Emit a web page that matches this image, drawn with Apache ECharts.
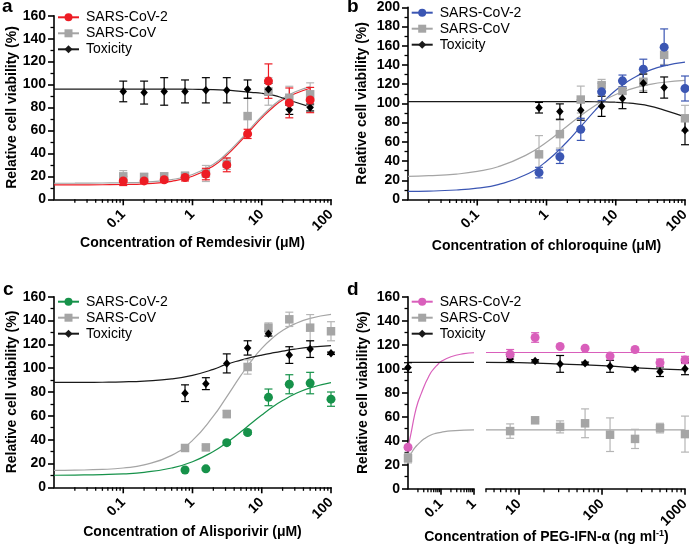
<!DOCTYPE html>
<html><head><meta charset="utf-8">
<script src="https://cdn.jsdelivr.net/npm/echarts/dist/echarts.min.js"></script>
<style>html,body{margin:0;padding:0;background:#fff;width:689px;height:547px;overflow:hidden}.p{position:absolute}</style>
</head><body>
<div id="pa" class="p" style="left:0;top:0;width:345px;height:273px"></div>
<div id="pb" class="p" style="left:345px;top:0;width:344px;height:273px"></div>
<div id="pc" class="p" style="left:0;top:273px;width:345px;height:274px"></div>
<div id="pd" class="p" style="left:345px;top:273px;width:344px;height:274px"></div>
<script>
// ---------------- DATA ----------------
// Panel a: Remdesivir
const A_X = [0.1, 0.2, 0.39, 0.78, 1.56, 3.125, 6.25, 12.5, 25, 50];
const A_COV2 = [16, 16, 17, 19, 22, 30, 57, 103, 84, 86.5];
const A_COV2_ERR = [4, 2, 2, 3, 5, 6, 4, 15, 13, 11];
const A_COV = [20, 19.5, 20, 20.5, 22.5, 31, 72.5, 94, 88.5, 91.5];
const A_COV_ERR = [5, 3, 3, 3, 7, 5, 16, 12, 10, 10];
const A_TOX = [94, 93, 94, 94, 95, 95, 96, 96, 78, 80];
const A_TOX_ERR = [9, 10, 12, 10, 11, 11, 8, 5, 4, 3];
const A_FIT_X = [0.01, 0.02, 0.05, 0.1, 0.2, 0.5, 1, 2, 3, 5, 7, 10, 15, 20, 30, 50];
const A_COV2_FIT = [12.5, 12.55, 12.7, 12.9, 13.5, 15.7, 20.1, 29.1, 37.5, 51, 60.8, 70.9, 80.9, 86.5, 92, 96.8];
const A_COV_FIT = [14, 14.05, 14.2, 14.4, 15, 17.2, 21.6, 30.6, 39, 52.5, 62.3, 72.4, 82.4, 88, 93.5, 98.2];
const A_TOX_FIT = [96, 96, 96, 96, 96, 96, 95.9, 95.6, 95.1, 94, 93.2, 92.4, 90.5, 88.3, 84.8, 80.5];

// Panel b: chloroquine
const B_X = [0.78, 1.56, 3.125, 6.25, 12.5, 25, 50, 100];
const B_COV2 = [28, 44.5, 73, 112, 123.5, 135.5, 158.5, 115.5];
const B_COV2_ERR = [5.5, 7, 11.5, 9, 6, 10.5, 19, 13];
const B_COV = [47, 68, 104, 119, 113, 122.5, 150.5, 84.5];
const B_COV_ERR = [19.5, 14.5, 14, 6, 3, 9, 10, 13.5];
const B_TOX = [95.5, 91.5, 93, 97, 105, 121, 116.5, 72];
const B_TOX_ERR = [5.5, 8, 10.5, 10.5, 10.5, 9.5, 11, 15];
const B_FIT_X = [0.01, 0.02, 0.05, 0.1, 0.2, 0.5, 1, 2, 3, 5, 7, 10, 15, 20, 30, 50, 100];
const B_COV2_FIT = [8.4, 8.7, 9.9, 11.8, 15.5, 25.7, 39.8, 60.4, 74.5, 92.5, 103.5, 113.6, 123, 128.3, 134.1, 139.1, 143];
const B_COV_FIT = [24.1, 24.8, 26.5, 29.2, 34.1, 45.9, 59.6, 76.5, 86.4, 97.6, 103.8, 109.2, 114, 116.7, 119.5, 122, 123.9];
const B_TOX_FIT = [101.8, 101.8, 101.8, 101.8, 101.8, 101.8, 101.8, 101.8, 101.8, 101.7, 101.6, 101.2, 100.4, 99.5, 97.5, 93, 86];

// Panel c: Alisporivir
const C_X = [0.78, 1.56, 3.125, 6.25, 12.5, 25, 50, 100];
const C_COV2 = [14.5, 15.5, 37.5, 46, 75.5, 86.5, 87.5, 74];
const C_COV2_ERR = [1, 1, 1.5, 1.5, 7, 8, 9, 6];
const C_COV = [33, 33.5, 61.5, 101, 134, 141, 134, 131];
const C_COV_ERR = [2, 1.5, 3, 6, 4, 6, 11, 8];
const C_TOX = [79, 87, 104, 117, 129, 111, 116, 112.5];
const C_TOX_ERR = [7, 5, 8, 6, 2, 7, 7, 1];
const C_FIT_X = [0.01, 0.02, 0.05, 0.1, 0.2, 0.5, 1, 2, 3, 5, 7, 10, 15, 20, 30, 50, 100];
const C_COV2_FIT = [10.1, 10.3, 10.7, 11.3, 12.6, 16.2, 21.5, 30.1, 36.8, 46.6, 53.5, 60.7, 68.2, 72.8, 78.3, 83.5, 87.9];
const C_COV_FIT = [14.2, 14.4, 15, 16.2, 18.8, 26.8, 39.4, 59.7, 74.5, 93.9, 105.7, 116.6, 126.3, 131.7, 137.2, 141.8, 145.1];
const C_TOX_FIT = [88, 88, 88.2, 88.5, 89.2, 91, 94, 99, 103, 106.8, 109, 111, 113, 114.3, 116, 117.6, 119];

// Panel d: PEG-IFN-alpha (broken axis)
const D_X0 = [0.01];
const D_COV2_0 = [34.5];
const D_COV2_0_ERR = [1.5];
const D_COV_0 = [25.5];
const D_COV_0_ERR = [4];
const D_TOX_0 = [101];
const D_TOX_0_ERR = [4];
const D_X = [7.8125, 15.625, 31.25, 62.5, 125, 250, 500, 1000];
const D_COV2 = [112, 126, 118.5, 117, 110.5, 116, 105, 107.3];
const D_COV2_ERR = [4, 4, 1, 1, 1, 1, 3, 3];
const D_COV = [48, 57, 51.5, 54.5, 45, 41.5, 50.5, 45.5];
const D_COV_ERR = [6, 1, 5, 12, 14, 8, 4, 15];
const D_TOX = [108, 106.5, 104, 104.5, 102, 100, 97.5, 100];
const D_TOX_ERR = [2, 1, 7, 1, 5, 1, 4, 5];
const D_FIT_X_L = [0.01, 0.0125, 0.016, 0.02, 0.025, 0.032, 0.04, 0.05, 0.063, 0.08, 0.1, 0.2, 0.5, 1];
const D_COV2_FIT_L = [34, 47, 62, 72, 79, 86.5, 92, 97, 100.5, 103.5, 106, 110, 112.5, 113.3];
const D_COV_FIT_L = [25, 29.5, 34, 37, 39.5, 41.8, 43.5, 44.8, 45.8, 46.5, 47, 48.2, 48.8, 49];
const D_TOX_FIT_L = [105.3, 105.3, 105.3, 105.3, 105.3, 105.3, 105.3, 105.3, 105.3, 105.3, 105.3, 105.3, 105.3, 105.3];
const D_FIT_X_R = [4, 10, 30, 100, 300, 1000];
const D_COV2_FIT_R = [113.5, 113.5, 113.5, 113.5, 113.5, 113.5];
const D_COV_FIT_R = [49, 49, 49, 49, 49, 49];
const D_TOX_FIT_R = [105.3, 105, 104, 102.5, 100.5, 99];

// tick values / labels
const Y_MAX_160 = 160;
const Y_MAX_200 = 200;
const X_LABELS_4DEC = [0.1, 1, 10, 100];
const X_MINOR_4DEC = [0.02,0.03,0.04,0.05,0.06,0.07,0.08,0.09,0.2,0.3,0.4,0.5,0.6,0.7,0.8,0.9,2,3,4,5,6,7,8,9,20,30,40,50,60,70,80,90];
const D_LABELS_L = [0.1, 1];
const D_MINOR_L = [0.02,0.03,0.04,0.05,0.06,0.07,0.08,0.09,0.2,0.3,0.4,0.5,0.6,0.7,0.8,0.9];
const D_LABELS_R = [10, 100, 1000];
const D_MINOR_R = [4,5,6,7,8,9,20,30,40,50,60,70,80,90,200,300,400,500,600,700,800,900];

const NAMES = ['SARS-CoV-2', 'SARS-CoV', 'Toxicity'];

// ---------------- STYLE ----------------
const FONT = '"Liberation Sans", Arial, Helvetica, sans-serif';
const GRAY = '#a5a5a5', GRAY_ERR = '#b5b5b5', BLACK = '#000000';
const RED = '#ed1c24', BLUE = '#3b56b3', GREEN = '#16924a', PINK = '#d95fbb';
const AX = {color: '#000', width: 1.6};

const pairs = (xs, ys) => xs.map((x, i) => [x, ys[i]]);
const triples = (xs, ys, es) => xs.map((x, i) => [x, ys[i], es[i]]);

function errSeries(xs, ys, es, color, gi) {
  return {type: 'custom', xAxisIndex: gi, yAxisIndex: gi, z: 3, silent: true, clip: false, animation: false,
    data: triples(xs, ys, es),
    renderItem(params, api) {
      const x = api.value(0), y = api.value(1), e = api.value(2);
      const t = api.coord([x, y + e]), b = api.coord([x, y - e]);
      const w = 4, st = {stroke: color, lineWidth: 1.2, fill: null};
      return {type: 'group', children: [
        {type: 'line', shape: {x1: t[0], y1: t[1], x2: b[0], y2: b[1]}, style: st},
        {type: 'line', shape: {x1: t[0] - w, y1: t[1], x2: t[0] + w, y2: t[1]}, style: st},
        {type: 'line', shape: {x1: b[0] - w, y1: b[1], x2: b[0] + w, y2: b[1]}, style: st}
      ]};
    }};
}
function tickSeries(vals, len, gi) {
  return {type: 'custom', xAxisIndex: gi, yAxisIndex: gi, z: 5, silent: true, clip: false, animation: false,
    data: vals.map(v => [v, 0]),
    renderItem(params, api) {
      const p = api.coord([api.value(0), 0]);
      return {type: 'line', shape: {x1: p[0], y1: p[1], x2: p[0], y2: p[1] + len},
        style: {stroke: '#000', lineWidth: len > 4 ? 1.6 : 1.3}};
    }};
}
function fitSeries(name, xs, ys, color, symbol, gi) {
  return {type: 'line', name, xAxisIndex: gi, yAxisIndex: gi, data: pairs(xs, ys), smooth: 0.5,
    showSymbol: false, symbol, symbolSize: 8, z: 2, silent: true, animation: false,
    lineStyle: {color, width: 1.2}, itemStyle: {color}};
}
function ptSeries(name, xs, ys, color, symbol, size, gi) {
  return {type: 'scatter', name, xAxisIndex: gi, yAxisIndex: gi, data: pairs(xs, ys), symbol, symbolSize: size,
    itemStyle: {color, opacity: 1}, z: 4, clip: false, silent: true, animation: false};
}
function yAxis(gi, max, show, gap) {
  return {type: 'value', gridIndex: gi, min: 0, max, interval: 20, show,
    name: show ? 'Relative cell viability (%)' : '', nameLocation: 'middle', nameGap: gap, nameRotate: 90,
    nameMoveOverlap: false,
    nameTextStyle: {fontFamily: FONT, fontSize: 14, fontWeight: 'bold', color: '#000'},
    axisLine: {show: true, onZero: false, lineStyle: AX},
    axisTick: {show: true, length: 6, lineStyle: AX},
    minorTick: {show: true, splitNumber: 2, length: 3.5, lineStyle: {color: '#000', width: 1.3}},
    splitLine: {show: false}, minorSplitLine: {show: false},
    axisLabel: {fontFamily: FONT, fontSize: 14, fontWeight: 'bold', color: '#000', margin: 8}};
}
function xAxis(gi, min, max, labels, name, gap) {
  return {type: 'log', logBase: 10, gridIndex: gi, min, max,
    name: name || '', nameLocation: 'middle', nameGap: gap || 40, nameMoveOverlap: false,
    nameTextStyle: {fontFamily: FONT, fontSize: 14, fontWeight: 'bold', color: '#000'},
    axisLine: {show: true, onZero: false, lineStyle: AX},
    axisTick: {show: false}, minorTick: {show: false}, splitLine: {show: false},
    axisLabel: {rotate: 45, margin: 13, fontFamily: FONT, fontSize: 14, fontWeight: 'bold', color: '#000',
      hideOverlap: false, showMinLabel: true, showMaxLabel: true,
      formatter: v => { const r = +Number(v).toPrecision(6); return labels.indexOf(r) >= 0 ? String(r) : ''; }}};
}
function legend(left, top) {
  return {orient: 'vertical', left, top, padding: 0, itemWidth: 21, itemHeight: 10, itemGap: 2,
    selectedMode: false, data: NAMES,
    textStyle: {fontFamily: FONT, fontSize: 14, color: '#000', padding: [0, 0, 0, 2]}};
}
function letter(ch, x, y) {
  return {type: 'text', left: x, top: y, style: {text: ch, font: 'bold 19px ' + FONT, fill: '#000'}};
}
function panelSeries(fx, f2, f1, ft, px, p2, e2, p1, e1, pt, et, col, gi) {
  return [
    fitSeries(NAMES[0], fx, f2, col, 'circle', gi),
    fitSeries(NAMES[1], fx, f1, GRAY, 'rect', gi),
    fitSeries(NAMES[2], fx, ft, '#1a1a1a', 'diamond', gi),
    errSeries(px, p1, e1, GRAY_ERR, gi),
    errSeries(px, pt, et, BLACK, gi),
    errSeries(px, p2, e2, col, gi),
    ptSeries(NAMES[1], px, p1, GRAY, 'rect', 8.5, gi),
    ptSeries(NAMES[2], px, pt, BLACK, 'diamond', [7.5, 8.5], gi),
    ptSeries(NAMES[0], px, p2, col, 'circle', 9, gi)
  ];
}
function simplePanel(el, grid, ymax, yGap, xName, xGap, leg, let_, fx, f2, f1, ft, px, p2, e2, p1, e1, pt, et, col) {
  const ch = echarts.init(document.getElementById(el), null, {renderer: 'canvas'});
  ch.setOption({
    animation: false, backgroundColor: '#fff',
    grid: [Object.assign({containLabel: false, outerBoundsMode: 'none'}, grid)],
    xAxis: [xAxis(0, 0.01, 100, X_LABELS_4DEC, xName, xGap)],
    yAxis: [yAxis(0, ymax, true, yGap)],
    legend: legend(leg[0], leg[1]),
    graphic: [letter(let_[0], let_[1], let_[2])],
    series: panelSeries(fx, f2, f1, ft, px, p2, e2, p1, e1, pt, et, col, 0).concat([
      tickSeries(X_LABELS_4DEC, 6, 0), tickSeries(X_MINOR_4DEC, 3.5, 0)])
  });
}

simplePanel('pa', {left: 54, top: 15.7, width: 277, height: 183.6}, Y_MAX_160, 35,
  'Concentration of Remdesivir (\u03bcM)', 37, [57, 10.3], ['a', 2, -3],
  A_FIT_X, A_COV2_FIT, A_COV_FIT, A_TOX_FIT, A_X, A_COV2, A_COV2_ERR, A_COV, A_COV_ERR, A_TOX, A_TOX_ERR, RED);
simplePanel('pb', {left: 63, top: 7.3, width: 277, height: 192.2}, Y_MAX_200, 39,
  'Concentration of chloroquine (\u03bcM)', 40, [65.7, 5.7], ['b', 2, -3],
  B_FIT_X, B_COV2_FIT, B_COV_FIT, B_TOX_FIT, B_X, B_COV2, B_COV2_ERR, B_COV, B_COV_ERR, B_TOX, B_TOX_ERR, BLUE);
simplePanel('pc', {left: 54, top: 23.7, width: 277, height: 190.6}, Y_MAX_160, 35,
  'Concentration of Alisporivir (\u03bcM)', 38, [57, 21.7], ['c', 3, 7],
  C_FIT_X, C_COV2_FIT, C_COV_FIT, C_TOX_FIT, C_X, C_COV2, C_COV2_ERR, C_COV, C_COV_ERR, C_TOX, C_TOX_ERR, GREEN);

// Panel d with broken x axis: two grids
(function () {
  const ch = echarts.init(document.getElementById('pd'), null, {renderer: 'canvas'});
  const gL = {left: 63, top: 23.7, width: 66, height: 192, containLabel: false, outerBoundsMode: 'none'};
  const gR = {left: 141, top: 23.7, width: 199, height: 192, containLabel: false, outerBoundsMode: 'none'};
  const series = [
    fitSeries(NAMES[0], D_FIT_X_L, D_COV2_FIT_L, PINK, 'circle', 0),
    fitSeries(NAMES[1], D_FIT_X_L, D_COV_FIT_L, GRAY, 'rect', 0),
    fitSeries(NAMES[2], D_FIT_X_L, D_TOX_FIT_L, '#1a1a1a', 'diamond', 0),
    fitSeries(NAMES[0], D_FIT_X_R, D_COV2_FIT_R, PINK, 'circle', 1),
    fitSeries(NAMES[1], D_FIT_X_R, D_COV_FIT_R, GRAY, 'rect', 1),
    fitSeries(NAMES[2], D_FIT_X_R, D_TOX_FIT_R, '#1a1a1a', 'diamond', 1),
    errSeries(D_X0, D_COV_0, D_COV_0_ERR, GRAY_ERR, 0),
    errSeries(D_X0, D_TOX_0, D_TOX_0_ERR, BLACK, 0),
    errSeries(D_X0, D_COV2_0, D_COV2_0_ERR, PINK, 0),
    errSeries(D_X, D_COV, D_COV_ERR, GRAY_ERR, 1),
    errSeries(D_X, D_TOX, D_TOX_ERR, BLACK, 1),
    errSeries(D_X, D_COV2, D_COV2_ERR, PINK, 1),
    ptSeries(NAMES[1], D_X0, D_COV_0, GRAY, 'rect', 8.5, 0),
    ptSeries(NAMES[2], D_X0, D_TOX_0, BLACK, 'diamond', [7.5, 8.5], 0),
    ptSeries(NAMES[0], D_X0, D_COV2_0, PINK, 'circle', 9, 0),
    ptSeries(NAMES[1], D_X, D_COV, GRAY, 'rect', 8.5, 1),
    ptSeries(NAMES[2], D_X, D_TOX, BLACK, 'diamond', [7.5, 8.5], 1),
    ptSeries(NAMES[0], D_X, D_COV2, PINK, 'circle', 9, 1),
    tickSeries(D_LABELS_L, 6, 0), tickSeries(D_MINOR_L, 3.5, 0),
    tickSeries(D_LABELS_R, 6, 1), tickSeries(D_MINOR_R, 3.5, 1)
  ];
  ch.setOption({
    animation: false, backgroundColor: '#fff',
    grid: [gL, gR],
    xAxis: [xAxis(0, 0.01, 1, D_LABELS_L), xAxis(1, 4, 1000, D_LABELS_R)],
    yAxis: [yAxis(0, Y_MAX_160, true, 38), yAxis(1, Y_MAX_160, false, 38)],
    legend: legend(65.7, 21.7),
    graphic: [
      letter('d', 2, 7),
      {type: 'text', x: 201.5, y: 264, style: {
        text: 'Concentration of PEG-IFN-\u03b1 (ng ml{sup|-1})', font: 'bold 14px ' + FONT, fill: '#000',
        align: 'center', verticalAlign: 'middle', lineHeight: 16,
        rich: {sup: {fontSize: 9, fontWeight: 'bold', fontFamily: FONT, verticalAlign: 'top', lineHeight: 8}}}}
    ],
    series
  });
})();
</script>
</body></html>
